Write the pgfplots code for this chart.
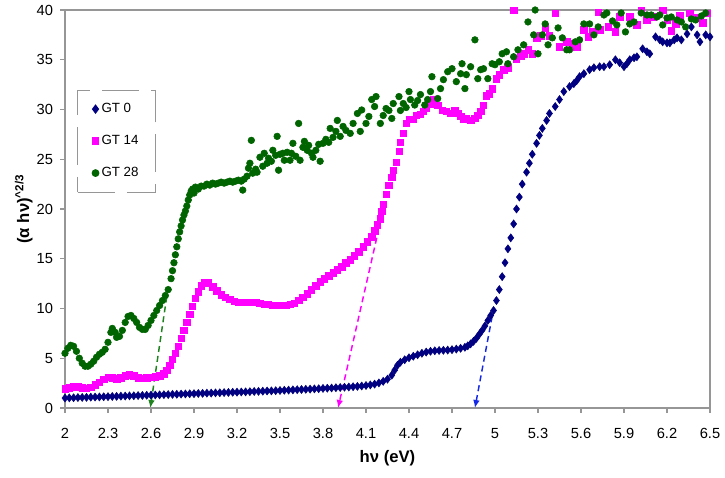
\documentclass[border=0pt]{standalone}
\usepackage{pgfplots}
\pgfplotsset{compat=1.18}
\usetikzlibrary{arrows.meta}
\usepackage{fontspec}
\setmainfont{Liberation Sans}
\definecolor{navyc}{RGB}{0,0,128}
\definecolor{magc}{RGB}{255,0,255}
\definecolor{grnc}{RGB}{0,100,0}
\definecolor{arrg}{RGB}{30,130,30}
\definecolor{arrb}{RGB}{20,40,230}
\definecolor{axg}{RGB}{150,150,150}
\begin{document}
\begin{tikzpicture}
\begin{axis}[
  scale only axis,
  width=483.75pt, height=298.5pt,
  xmin=2, xmax=6.5, ymin=0, ymax=40,
  xtick={2,2.3,2.6,2.9,3.2,3.5,3.8,4.1,4.4,4.7,5,5.3,5.6,5.9,6.2,6.5},
  xticklabels={2,2.3,2.6,2.9,3.2,3.5,3.8,4.1,4.4,4.7,5,5.3,5.6,5.9,6.2,6.5},
  ytick={0,5,10,15,20,25,30,35,40},
  yticklabels={0,5,10,15,20,25,30,35,40},
  tick align=outside, tick pos=left,
  major tick length=3.5pt,
  axis line style={draw=axg, line width=0.8pt},
  every tick/.style={draw=axg, line width=0.8pt},
  tick label style={font=\fontsize{11}{13}\selectfont, text=black},
  xticklabel style={yshift=-8pt},
  yticklabel style={xshift=-2pt},
  xlabel={\textbf{hν (eV)}},
  ylabel={\textbf{(α hν)}\textsuperscript{\textbf{\textasciicircum 2/3}}},
  label style={font=\fontsize{12.5}{14}\selectfont},
  xlabel style={at={(axis description cs:0.5,0)}, anchor=center, yshift=-38pt},
  ylabel style={at={([xshift=-31pt]axis description cs:0,0.5)}, anchor=center},
  clip=false,
  legend style={at={(rel axis cs:0.0186,0.80)}, anchor=north west,
    draw=axg, line width=0.8pt, dash pattern=on 28pt off 9pt,
    font=\fontsize{10}{12}\selectfont, row sep=11.5pt,
    inner xsep=11pt, inner ysep=8pt, legend cell align=left},
]
\addplot[only marks, mark=diamond*, mark size=3pt, color=navyc, mark options={solid}] table {
x y
2.00 1.00
2.03 1.02
2.06 1.03
2.09 1.05
2.12 1.06
2.15 1.07
2.18 1.09
2.21 1.10
2.24 1.11
2.27 1.13
2.30 1.14
2.33 1.16
2.36 1.17
2.39 1.19
2.42 1.20
2.45 1.22
2.48 1.23
2.51 1.25
2.54 1.26
2.57 1.28
2.60 1.29
2.63 1.31
2.66 1.32
2.69 1.34
2.72 1.35
2.75 1.37
2.78 1.38
2.81 1.40
2.84 1.41
2.87 1.43
2.90 1.44
2.93 1.46
2.96 1.47
2.99 1.49
3.02 1.50
3.05 1.52
3.08 1.53
3.11 1.55
3.14 1.56
3.17 1.58
3.20 1.59
3.23 1.61
3.26 1.62
3.29 1.64
3.32 1.66
3.35 1.67
3.38 1.69
3.41 1.71
3.44 1.72
3.47 1.74
3.50 1.76
3.53 1.78
3.56 1.80
3.59 1.82
3.62 1.84
3.65 1.86
3.68 1.88
3.71 1.90
3.74 1.92
3.77 1.94
3.80 1.97
3.83 1.99
3.86 2.01
3.89 2.04
3.92 2.06
3.95 2.09
3.98 2.11
4.01 2.14
4.04 2.17
4.07 2.21
4.10 2.26
4.13 2.32
4.16 2.40
4.19 2.52
4.22 2.68
4.25 2.90
4.28 3.30
4.30 3.80
4.32 4.30
4.34 4.60
4.37 4.85
4.40 5.05
4.43 5.20
4.46 5.35
4.49 5.50
4.52 5.62
4.55 5.70
4.58 5.75
4.61 5.78
4.64 5.80
4.67 5.82
4.70 5.86
4.73 5.92
4.76 6.00
4.79 6.10
4.81 6.25
4.83 6.45
4.85 6.70
4.87 7.00
4.89 7.40
4.91 7.80
4.93 8.25
4.95 8.80
4.97 9.30
4.99 9.80
5.01 10.8
5.03 11.9
5.05 13.2
5.07 14.6
5.09 16.0
5.11 17.1
5.13 18.5
5.15 20.0
5.17 21.2
5.19 22.5
5.22 23.7
5.24 24.6
5.26 25.5
5.29 26.6
5.31 27.4
5.33 28.1
5.36 28.9
5.38 29.6
5.42 30.3
5.45 31.0
5.48 31.8
5.52 32.3
5.55 32.6
5.57 32.9
5.59 33.3
5.62 33.6
5.66 34.0
5.69 34.2
5.73 34.3
5.76 34.3
5.80 34.5
5.84 35.0
5.87 34.7
5.90 34.3
5.92 34.6
5.94 35.0
5.97 35.2
5.99 35.3
6.03 36.1
6.06 35.8
6.08 35.6
6.12 37.3
6.15 37.0
6.17 36.8
6.20 36.7
6.22 36.7
6.25 37.0
6.27 37.2
6.30 37.0
6.34 37.6
6.37 38.3
6.41 37.5
6.43 36.8
6.47 37.5
6.50 37.3
};
\addlegendentry{GT 0}
\addplot[only marks, mark=square*, mark size=2.4pt, color=magc, mark options={solid}] table {
x y
2.00 1.95
2.03 2.05
2.06 2.15
2.09 2.15
2.12 2.05
2.15 2.00
2.18 2.10
2.21 2.35
2.24 2.60
2.27 2.90
2.30 3.10
2.33 3.05
2.36 2.95
2.39 3.05
2.42 3.25
2.45 3.35
2.48 3.25
2.51 3.05
2.54 3.00
2.57 3.05
2.60 3.10
2.63 3.15
2.66 3.25
2.69 3.45
2.71 3.80
2.73 4.30
2.75 4.90
2.77 5.50
2.79 6.20
2.81 7.00
2.83 7.80
2.85 8.60
2.87 9.40
2.89 10.2
2.91 11.0
2.93 11.7
2.95 12.3
2.97 12.6
3.00 12.6
3.03 12.2
3.06 11.8
3.09 11.4
3.12 11.1
3.15 10.9
3.18 10.7
3.21 10.65
3.24 10.6
3.27 10.6
3.30 10.6
3.33 10.6
3.36 10.5
3.39 10.45
3.42 10.4
3.45 10.35
3.48 10.3
3.51 10.3
3.54 10.3
3.57 10.4
3.60 10.55
3.63 10.8
3.66 11.1
3.69 11.5
3.72 11.9
3.75 12.3
3.78 12.7
3.81 13.0
3.84 13.3
3.87 13.6
3.90 13.9
3.93 14.2
3.96 14.6
3.99 14.9
4.02 15.3
4.05 15.7
4.08 16.2
4.11 16.7
4.14 17.2
4.16 17.8
4.18 18.4
4.20 19.0
4.21 19.8
4.22 20.5
4.24 21.5
4.26 22.4
4.28 23.2
4.29 23.9
4.31 24.7
4.33 25.8
4.34 26.7
4.36 27.6
4.38 28.6
4.40 29.0
4.43 29.0
4.45 29.4
4.48 29.5
4.50 29.8
4.52 30.1
4.55 30.5
4.57 31.0
4.60 30.4
4.63 29.9
4.66 29.8
4.69 29.6
4.72 29.9
4.74 29.6
4.76 29.3
4.78 29.0
4.80 29.1
4.83 28.9
4.86 29.1
4.88 29.4
4.90 29.8
4.92 30.4
4.94 31.4
4.96 31.6
4.98 32.1
5.01 33.1
5.03 33.5
5.06 34.0
5.09 34.2
5.13 40.0
5.15 35.1
5.18 35.4
5.20 35.6
5.23 36.0
5.26 35.6
5.29 37.2
5.32 37.4
5.35 38.2
5.38 37.4
5.42 39.7
5.45 36.3
5.50 36.8
5.54 36.6
5.57 36.3
5.62 38.0
5.65 37.3
5.68 37.8
5.72 39.8
5.73 38.0
5.79 38.3
5.84 37.8
5.87 39.3
5.94 39.3
5.99 38.5
6.02 40.0
6.06 39.0
6.10 39.3
6.17 40.0
6.20 39.0
6.23 37.9
6.26 38.6
6.29 39.5
6.36 39.7
6.41 39.2
6.45 38.7
6.48 39.7
};
\addlegendentry{GT 14}
\addplot[only marks, mark=*, mark size=2.5pt, color=grnc, mark options={solid}] table {
x y
2.00 5.5
2.02 6.0
2.04 6.3
2.06 6.2
2.08 5.7
2.10 5.0
2.12 4.5
2.14 4.2
2.16 4.2
2.18 4.4
2.20 4.7
2.22 5.1
2.24 5.4
2.26 5.6
2.28 5.9
2.30 6.6
2.32 7.6
2.33 8.0
2.35 7.6
2.36 7.1
2.38 7.2
2.40 7.8
2.42 8.6
2.44 9.2
2.46 9.3
2.48 9.0
2.50 8.6
2.52 8.1
2.54 7.9
2.56 7.9
2.58 8.3
2.60 8.8
2.62 9.3
2.64 9.8
2.66 10.3
2.68 10.8
2.70 11.3
2.72 11.9
2.74 13.0
2.75 13.8
2.76 14.6
2.77 15.4
2.78 16.2
2.79 17.0
2.80 17.7
2.81 18.3
2.82 18.9
2.83 19.4
2.84 19.8
2.85 20.3
2.86 20.9
2.87 21.4
2.88 21.8
2.89 22.0
2.90 21.6
2.91 22.2
2.93 22.0
2.95 22.3
2.97 22.3
2.99 22.5
3.01 22.4
3.03 22.6
3.05 22.5
3.07 22.6
3.09 22.7
3.11 22.6
3.13 22.7
3.15 22.8
3.17 22.7
3.19 22.8
3.21 22.9
3.23 22.8
3.24 21.9
3.25 23.0
3.27 23.3
3.28 24.1
3.29 24.6
3.30 26.9
3.31 23.6
3.33 24.0
3.34 23.7
3.36 25.2
3.38 24.3
3.39 25.6
3.41 24.6
3.42 25.1
3.44 24.8
3.45 25.9
3.47 25.4
3.48 27.3
3.49 23.9
3.50 25.5
3.52 25.6
3.53 24.9
3.55 25.7
3.57 24.9
3.58 25.6
3.59 26.6
3.61 25.3
3.63 28.6
3.64 24.9
3.66 26.2
3.67 26.8
3.69 25.9
3.70 26.4
3.72 25.6
3.73 25.2
3.75 25.9
3.77 26.5
3.78 24.8
3.80 26.6
3.82 27.0
3.84 26.7
3.85 28.1
3.87 27.2
3.89 27.8
3.90 28.9
3.92 27.3
3.94 28.3
3.96 27.9
3.99 27.6
4.01 28.6
4.04 29.6
4.06 27.8
4.07 29.95
4.10 28.6
4.12 29.3
4.14 31.0
4.16 30.3
4.17 31.3
4.20 28.6
4.22 29.4
4.24 30.1
4.26 29.9
4.28 29.1
4.29 30.6
4.33 31.3
4.34 29.9
4.36 30.6
4.38 30.2
4.40 31.8
4.41 31.0
4.44 30.45
4.46 30.9
4.48 31.5
4.51 30.45
4.53 31.0
4.55 31.8
4.56 33.3
4.60 31.1
4.62 32.1
4.64 33.0
4.67 33.8
4.70 34.1
4.73 32.8
4.76 33.6
4.77 34.6
4.79 32.1
4.80 33.5
4.83 34.3
4.86 37.0
4.88 33.1
4.90 34.0
4.92 34.1
4.95 33.1
4.98 34.6
5.00 34.5
5.03 34.8
5.05 35.6
5.08 35.8
5.09 34.6
5.13 35.3
5.16 36.0
5.20 36.5
5.23 38.8
5.27 37.5
5.28 40.0
5.30 35.6
5.33 37.5
5.35 38.6
5.37 36.5
5.40 37.2
5.44 38.2
5.47 37.2
5.50 36.0
5.52 36.0
5.56 36.8
5.59 37.0
5.62 38.6
5.66 38.6
5.69 37.5
5.72 38.3
5.76 39.5
5.78 39.7
5.82 38.9
5.85 38.5
5.88 39.7
5.91 37.8
5.94 38.6
5.97 38.8
6.02 39.7
6.06 39.5
6.09 39.5
6.13 39.3
6.15 39.5
6.17 38.5
6.20 39.2
6.23 39.3
6.27 39.0
6.30 38.8
6.33 38.3
6.37 39.1
6.40 39.0
6.44 39.4
6.47 39.7
};
\addlegendentry{GT 28}
\addplot[forget plot, arrg, dash pattern=on 4.5pt off 3pt, line width=1.1pt, -{Latex[length=6pt,width=5pt]}, mark=none] coordinates {(2.71,11.2) (2.595,0)};
\addplot[forget plot, magc, dash pattern=on 4.5pt off 3pt, line width=1.1pt, -{Latex[length=6pt,width=5pt]}, mark=none] coordinates {(4.175,17.1) (3.905,0)};
\addplot[forget plot, arrb, dash pattern=on 4.5pt off 3pt, line width=1.1pt, -{Latex[length=6pt,width=5pt]}, mark=none] coordinates {(4.98,9.2) (4.86,0)};
\draw[axg, line width=0.8pt] (rel axis cs:0,1) -- (rel axis cs:1,1) -- (rel axis cs:1,0);
\end{axis}
\pgfresetboundingbox
\path[use as bounding box] ([xshift=-48.75pt,yshift=-52.5pt]current axis.south west) rectangle ([xshift=11.25pt,yshift=7.5pt]current axis.north east);
\end{tikzpicture}
\end{document}
